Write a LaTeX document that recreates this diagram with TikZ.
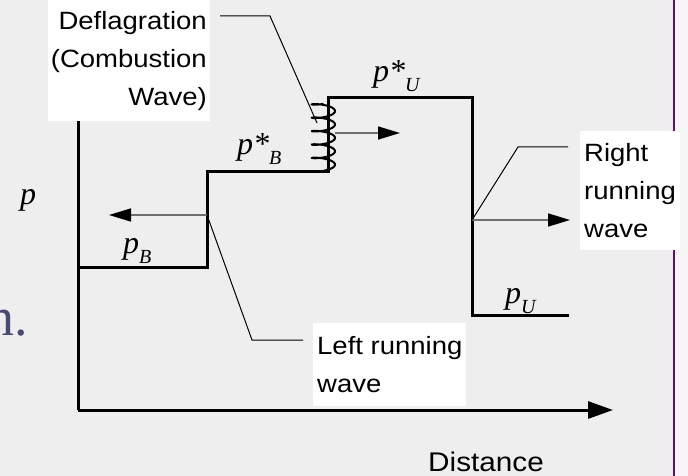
\documentclass[tikz,border=0pt]{standalone}
\usepackage{fontspec}
\setmainfont{Liberation Serif}
\newfontfamily\lblfont[FakeStretch=1.1]{Liberation Sans}
\usetikzlibrary{
  arrows.meta
}
\definecolor{dfBack}{HTML}{EEEEEE}
\definecolor{dfEdge}{HTML}{F5F5F5}
\definecolor{dfRule}{HTML}{6A0A6E}
\definecolor{dfSlate}{HTML}{4A4A72}
\definecolor{dfGrey}{HTML}{6E6E6E}
% pressure symbol with optional star and a lowered subscript
\newcommand{\pvar}[2]{\textit{p#1}\raisebox{-10pt}{\fontsize{20}{20}\selectfont\textit{#2}}}
\tikzset{
  stepline/.style={line width=3pt, line join=miter},
  axisline/.style={line width=3pt, -{Triangle[length=25pt, width=17pt]}},
  wavearrow/.style={line width=1.6pt, dfGrey, -{Triangle[length=22pt, width=13pt, color=black]}},
  leaderline/.style={line width=1pt},
  coilline/.style={line width=2pt, smooth, samples=240},
  callout/.style={fill=white, font=\lblfont\fontsize{25}{38}\selectfont,
    inner xsep=4pt, inner ysep=12pt},
  qty/.style={font=\fontsize{32}{32}\selectfont, inner sep=0pt, anchor=base west}
}
\begin{document}
\begin{tikzpicture}[x=1pt, y=-1pt]
  \fill[dfBack] (0,0) rectangle (688,476);
  \fill[dfEdge] (674,0) rectangle (688,476);
  \useasboundingbox (0,0) rectangle (688,476);
  \draw[dfRule, line width=2pt] (674,0) -- (674,476);
  \node[font=\fontsize{54}{54}\selectfont, text=dfSlate, anchor=base east, inner sep=0pt] (slide) at (28,335) {n.};
  % axes
  \coordinate (orig) at (78,410);
  \coordinate (ytop) at (78,100);
  \coordinate (xend) at (613,410);
  \draw[stepline] (orig) -- (ytop);
  \draw[axisline] (orig) -- (xend);
  % pressure profile
  \draw[stepline] (78,267) -- (207,267) -- (207,171) -- (328,171) -- (328,98)
    -- (472,98) -- (472,315) -- (569,315);
  % flame front coil
  \draw[coilline] plot[domain=0:1800] ({323.5+11.5*sin(\x)}, {168-\x/1800*67+2.8*cos(\x)});
  % fronts and their directions
  \coordinate (leftfront) at (207,215);
  \coordinate (flame) at (335,133);
  \coordinate (rightfront) at (472,220);
  \coordinate (lwend) at (109,215);
  \coordinate (flend) at (400,133);
  \coordinate (rwend) at (570,220);
  \draw[wavearrow] (leftfront) -- (lwend);
  \draw[wavearrow] (flame) -- (flend);
  \draw[wavearrow] (rightfront) -- (rwend);
  % callouts
  \node[callout, align=right, anchor=north east, inner xsep=3pt, inner ysep=11pt] (defl) at (210,0) {Deflagration\\(Combustion\\Wave)};
  \node[callout, align=left, anchor=north west, inner ysep=13pt] (lrw) at (313,323) {Left running\\wave};
  \node[callout, align=left, anchor=north west] (rrw) at (580,131) {Right\\running\\wave};
  \node[font=\lblfont\fontsize{27}{27}\selectfont, anchor=base] (xlab) at (486,471) {Distance};
  \coordinate (dknee) at (270,16);
  \coordinate (dtip) at (317,123);
  \coordinate (lknee) at (252,340);
  \coordinate (rknee) at (518,147);
  \draw[leaderline] ([xshift=10pt]defl.east |- dknee) -- (dknee) -- (dtip);
  \draw[leaderline] (leftfront) -- (lknee) -- ([xshift=-10pt]lknee -| lrw.west);
  \draw[leaderline] (rightfront) -- (rknee) -- ([xshift=-12pt]rknee -| rrw.west);
  % pressure labels
  \node[qty] (ylab) at (20,204) {\textit{p}};
  \node[qty] (pus) at (373,82) {\pvar{*}{U}};
  \node[qty] (pbs) at (237,154) {\pvar{*}{B}};
  \node[qty] (pb) at (123,253) {\pvar{}{B}};
  \node[qty] (pu) at (505,303) {\pvar{}{U}};
\end{tikzpicture}
\end{document}
